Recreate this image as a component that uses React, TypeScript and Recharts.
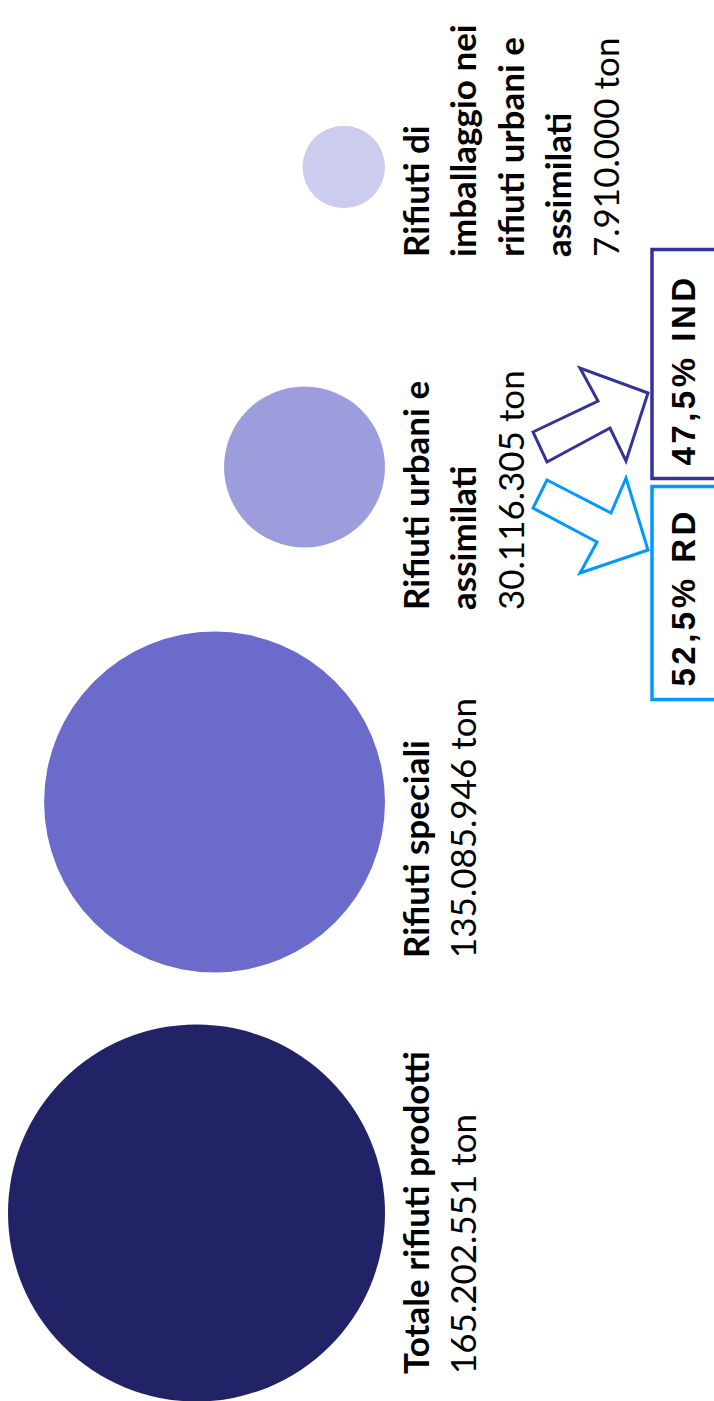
import { ScatterChart, Scatter, XAxis, YAxis, ZAxis, Customized } from 'recharts'

// the slide is drawn landscape and turned a quarter turn, as in the original
const W = 1401
const H = 714

const categories = [
  'Totale rifiuti prodotti',
  'Rifiuti speciali',
  'Rifiuti urbani e assimilati',
  'Rifiuti di imballaggio nei rifiuti urbani e assimilati',
]
const tonnes = [165202551, 135085946, 30116305, 7910000]
const positions = [188, 599, 934, 1234]

const splitLabels = ['RD', 'IND']
const splitShares = [52.5, 47.5]

// layout / styles
const titleLines = [
  ['Totale rifiuti prodotti'],
  ['Rifiuti speciali'],
  ['Rifiuti urbani e', 'assimilati'],
  ['Rifiuti di', 'imballaggio nei', 'rifiuti urbani e', 'assimilati'],
]
const labelOffset = [-161, -156, -143, -90]
const bubbleColors = ['#222266', '#6B6BCC', '#9D9DDD', '#CCCCEE']
const splitColors = ['#0099FF', '#333399']

const MAX_R = 188.5
const LINE = 47.5
const FONT = 'Lato, "Noto Sans", sans-serif'

const rows = categories.map((name, i) => ({ name, pos: positions[i], base: 0, tonnes: tonnes[i], idx: i }))

const fmtTon = (v: number) => String(v).replace(/\B(?=(\d{3})+(?!\d))/g, '.')
const fmtPct = (v: number) => v.toFixed(1).replace('.', ',') + '%'

function Bubble(props: any) {
  const { cx, cy, size, payload } = props
  const i = payload.idx
  const r = size ? Math.sqrt(size / Math.PI) : (props.width ?? 0) / 2
  const x0 = cx + labelOffset[i]
  const lines = titleLines[i]
  const first = cy + 43.5
  return (
    <g>
      <circle cx={cx} cy={cy - r} r={r} fill={bubbleColors[i]} />
      {lines.map((t, k) => (
        <text key={k} x={x0} y={first + k * LINE} fontFamily={FONT} fontWeight={700} fontSize={35} fill="#000">
          {t}
        </text>
      ))}
      <text x={x0} y={first + lines.length * LINE} fontFamily={FONT} fontSize={35} fill="#000">
        {fmtTon(payload.tonnes)} ton
      </text>
    </g>
  )
}

function Annotations() {
  const arrows = [
    '921,547 888,611 923,626 851,648 828,580 859,597 893,533',
    '969,533 1000,598 1033,580 1008,648 940,626 973,610 939,547',
  ]
  const boxes = [
    { x: 701.5, w: 213 },
    { x: 922.5, w: 229 },
  ]
  return (
    <g>
      {arrows.map((p, i) => (
        <polygon key={'a' + i} points={p} fill="#fff" stroke={splitColors[i]} strokeWidth={3} strokeLinejoin="miter" />
      ))}
      {boxes.map((b, i) => (
        <g key={'b' + i}>
          <rect x={b.x} y={652} width={b.w} height={90} fill="none" stroke={splitColors[i]} strokeWidth={3.5} />
          <text
            x={b.x + 13}
            y={695}
            fontFamily='"Liberation Sans", Arial, sans-serif'
            fontWeight={700}
            fontSize={33}
            letterSpacing={3.5}
            fill="#000"
          >
            {fmtPct(splitShares[i])} {splitLabels[i]}
          </text>
        </g>
      ))}
    </g>
  )
}

export default function App() {
  return (
    <div style={{ position: 'absolute', left: 0, top: 0, width: H, height: W, overflow: 'hidden', background: '#fff' }}>
      <div
        style={{
          position: 'absolute',
          left: 0,
          top: 0,
          width: W,
          height: H,
          transformOrigin: '0 0',
          transform: `translateY(${W}px) rotate(-90deg)`,
        }}
      >
        <ScatterChart width={W} height={H} margin={{ top: 0, right: 0, bottom: H - 385, left: 0 }}>
          <XAxis type="number" dataKey="pos" domain={[0, W]} hide />
          <YAxis type="number" dataKey="base" domain={[0, 1]} hide />
          <ZAxis type="number" dataKey="tonnes" domain={[0, Math.max(...tonnes)]} range={[0, Math.PI * MAX_R * MAX_R]} />
          <Scatter data={rows} shape={Bubble} isAnimationActive={false} />
          <Customized component={Annotations} />
        </ScatterChart>
      </div>
    </div>
  )
}
